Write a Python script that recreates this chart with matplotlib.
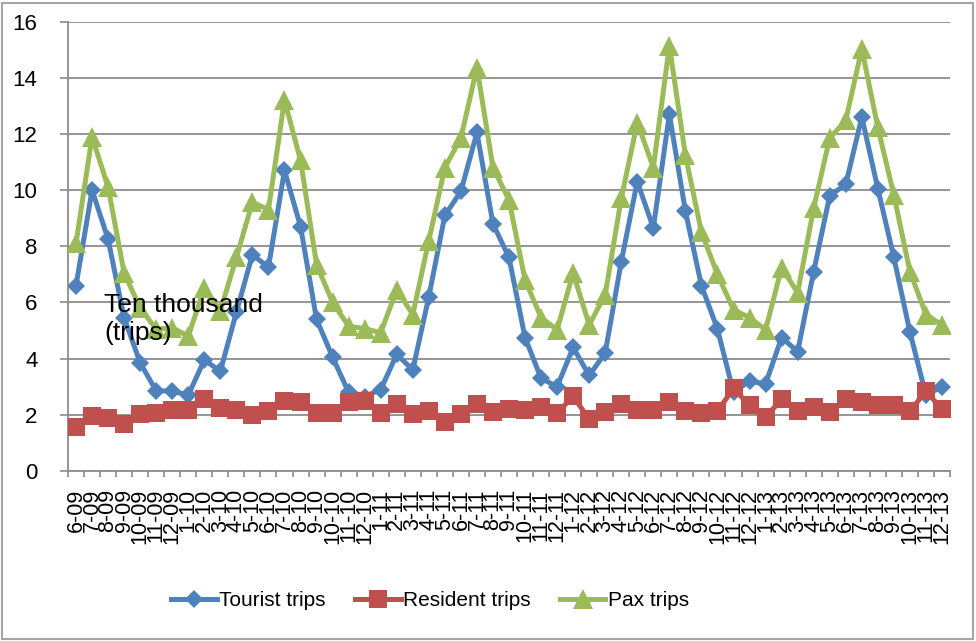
import matplotlib
matplotlib.use("Agg")
import matplotlib.pyplot as plt
from matplotlib.patches import Rectangle
from matplotlib.ticker import FixedLocator, NullFormatter, FixedFormatter

months = ["6-09", "7-09", "8-09", "9-09", "10-09", "11-09", "12-09",
          "1-10", "2-10", "3-10", "4-10", "5-10", "6-10", "7-10", "8-10", "9-10", "10-10", "11-10", "12-10",
          "1-11", "2-11", "3-11", "4-11", "5-11", "6-11", "7-11", "8-11", "9-11", "10-11", "11-11", "12-11",
          "1-12", "2-12", "3-12", "4-12", "5-12", "6-12", "7-12", "8-12", "9-12", "10-12", "11-12", "12-12",
          "1-13", "2-13", "3-13", "4-13", "5-13", "6-13", "7-13", "8-13", "9-13", "10-13", "11-13", "12-13"]

tourist = [6.6, 10.0, 8.25, 5.45, 3.85, 2.85, 2.85, 2.7, 3.95, 3.55,
           5.65, 7.7, 7.25, 10.7, 8.7, 5.4, 4.05, 2.8, 2.65, 2.9,
           4.15, 3.6, 6.2, 9.1, 9.95, 12.05, 8.8, 7.6, 4.75, 3.3,
           3.0, 4.4, 3.4, 4.2, 7.45, 10.3, 8.65, 12.7, 9.25, 6.6,
           5.05, 2.8, 3.2, 3.1, 4.75, 4.25, 7.1, 9.8, 10.2, 12.6,
           10.05, 7.6, 4.95, 2.7, 3.0]

resident = [1.55, 1.95, 1.88, 1.67, 2.02, 2.05, 2.17, 2.17, 2.58, 2.26,
            2.17, 2.0, 2.13, 2.5, 2.44, 2.05, 2.05, 2.44, 2.5, 2.08,
            2.38, 2.03, 2.13, 1.74, 2.03, 2.38, 2.1, 2.2, 2.17, 2.27,
            2.06, 2.66, 1.84, 2.09, 2.38, 2.17, 2.17, 2.45, 2.13, 2.06,
            2.13, 2.94, 2.34, 1.92, 2.55, 2.13, 2.27, 2.09, 2.55, 2.45,
            2.34, 2.34, 2.13, 2.84, 2.2]

pax = [8.1, 11.9, 10.1, 7.05, 5.8, 5.05, 5.1, 4.8, 6.5, 5.7,
       7.6, 9.57, 9.3, 13.2, 11.06, 7.35, 6.0, 5.15, 5.07, 4.92,
       6.45, 5.57, 8.2, 10.8, 11.85, 14.36, 10.8, 9.65, 6.8, 5.46,
       5.03, 7.05, 5.2, 6.28, 9.7, 12.4, 10.8, 15.14, 11.24, 8.5,
       7.0, 5.74, 5.46, 5.03, 7.23, 6.35, 9.36, 11.85, 12.48, 15.03,
       12.23, 9.82, 7.1, 5.57, 5.2]

series_names = ["Tourist trips", "Resident trips", "Pax trips"]
y_ticks = [0, 2, 4, 6, 8, 10, 12, 14, 16]
unit_label = "Ten thousand\n(trips)"

plt.rcParams['font.family'] = ['Liberation Sans', 'DejaVu Sans']

W, H = 976, 641
fig = plt.figure(figsize=(W / 100, H / 100), dpi=100)
ax = fig.add_axes([68 / W, 1 - 471 / H, (950 - 68) / W, (471 - 21.5) / H])

x = list(range(len(months)))
grid_c = "#8c8c8c"

ax.plot(x, tourist, color="#4F81BD", lw=3.6, marker="D", ms=9, mew=0,
        label=series_names[0], zorder=3)
ax.plot(x, resident, color="#C0504D", lw=3.6, marker="s", ms=12.5, mew=0,
        label=series_names[1], zorder=4)
ax.plot(x, pax, color="#9BBB59", lw=3.6, marker="^", ms=14, mew=0,
        label=series_names[2], zorder=5)

ax.set_xlim(-0.5, len(months) - 0.5)
ax.set_ylim(0, 16)
ax.set_yticks(y_ticks)
ax.set_yticklabels([str(v) for v in y_ticks])
ax.yaxis.grid(True, color=grid_c, lw=1.3)
ax.set_axisbelow(True)

# category boundary ticks (major) and label positions (minor)
ax.xaxis.set_major_locator(FixedLocator([i - 0.5 for i in range(len(months) + 1)]))
ax.xaxis.set_major_formatter(NullFormatter())
ax.xaxis.set_minor_locator(FixedLocator(x))
ax.xaxis.set_minor_formatter(FixedFormatter(months))
ax.tick_params(axis="x", which="major", length=4.5, width=1.2, color=grid_c, direction="out")
ax.tick_params(axis="x", which="minor", length=0, pad=13, labelsize=15.5, labelrotation=90)
ax.tick_params(axis="y", length=6, width=1.2, color=grid_c, pad=16, labelsize=16)

for s in ["top", "right"]:
    ax.spines[s].set_visible(False)
for s in ["left", "bottom"]:
    ax.spines[s].set_color(grid_c)
    ax.spines[s].set_linewidth(1.3)

fig.text(104 / W, 1 - 293 / H, unit_label, fontsize=19, va="top", ha="left",
         linespacing=1.2)

leg = fig.legend(loc="center", bbox_to_anchor=(430 / W, 1 - 601 / H), ncol=3,
                 frameon=False, fontsize=15, handlelength=2.2, handletextpad=0.1,
                 columnspacing=1.4, numpoints=1)

fig.patches.append(Rectangle((2 / W, 2 / H), (W - 5) / W, (H - 5) / H,
                             transform=fig.transFigure, fill=False,
                             edgecolor="#a6a6a6", lw=1.5))

fig.savefig("out.png", dpi=100)
